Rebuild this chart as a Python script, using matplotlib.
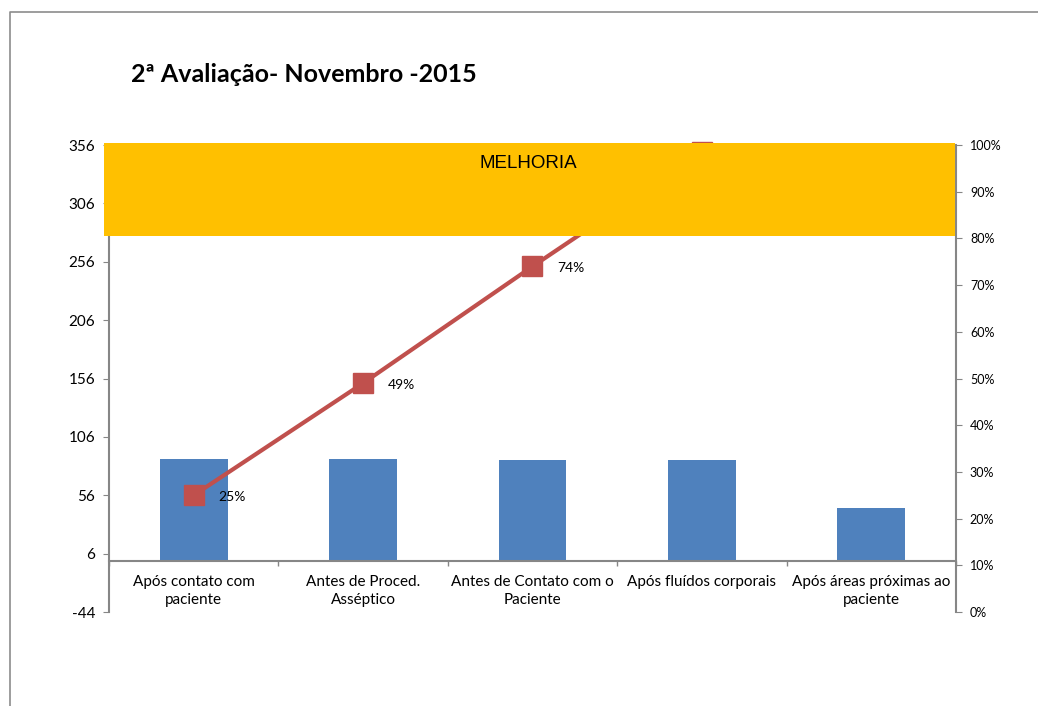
import numpy as np
import matplotlib.pyplot as plt
from matplotlib.patches import Rectangle
from matplotlib.lines import Line2D
from matplotlib.ticker import FuncFormatter

categorias = ['Após contato com\npaciente', 'Antes de Proced.\nAsséptico',
              'Antes de Contato com o\nPaciente', 'Após fluídos corporais',
              'Após áreas próximas ao\npaciente']
valores = [87, 87, 86, 86, 45]
acumulado = [0.25, 0.49, 0.74, 0.984, np.nan]
rotulos = ['25%', '49%', '74%', '', '']

plt.rcParams['font.family'] = ['Lato', 'DejaVu Sans']
plt.rcParams['axes.unicode_minus'] = False
cinza = '#868686'

fig = plt.figure(figsize=(10.38, 7.06), dpi=100)
ax = fig.add_axes([0.105, 0.1331, 0.816, 0.6615])
x = np.arange(len(categorias))

ax.bar(x, valores, width=0.4, color='#4F81BD', zorder=2)
ax.set_xlim(-0.5, 4.5)
ax.set_ylim(-44, 356)
ax.set_yticks(np.arange(-44, 357, 50))
ax.tick_params(axis='y', labelsize=11, color=cinza, length=4, pad=6)
ax.spines['top'].set_visible(False)
ax.spines['right'].set_visible(False)
ax.spines['left'].set_color(cinza)
ax.spines['bottom'].set_color(cinza)
ax.spines['left'].set_linewidth(1.5)
ax.spines['bottom'].set_linewidth(1.5)
ax.spines['bottom'].set_position(('data', 0))
ax.set_xticks(x)
ax.set_xticklabels(categorias, fontsize=11, linespacing=1.45)
ax.tick_params(axis='x', which='major', length=0, pad=10)
ax.set_xticks(np.arange(-0.5, 4.6, 1), minor=True)
ax.tick_params(axis='x', which='minor', length=3.5, color=cinza, width=1)

ax2 = ax.twinx()
ax2.set_ylim(0, 1)
ax2.set_yticks(np.arange(0, 1.01, 0.1))
ax2.yaxis.set_major_formatter(FuncFormatter(lambda v, p: '%d%%' % round(v * 100)))
ax2.tick_params(axis='y', labelsize=9, color=cinza, length=4, pad=6)
for s in ['top', 'left', 'bottom']:
    ax2.spines[s].set_visible(False)
ax2.spines['right'].set_color(cinza)
ax2.spines['right'].set_linewidth(1.5)
ax2.plot(x, acumulado, color='#C0504D', lw=3, marker='s', markersize=14,
         clip_on=False, zorder=3)
for xi, yi, t in zip(x, acumulado, rotulos):
    if t:
        ax2.annotate(t, (xi, yi), xytext=(18, -1), textcoords='offset points',
                     fontsize=10, va='center', ha='left')

# caixa "MELHORIA" sobreposta
fig.patches.append(Rectangle((104 / 1038, 1 - 236 / 706), 851 / 1038, 93 / 706,
                             transform=fig.transFigure, facecolor='#FFC000',
                             edgecolor='none', zorder=10))
fig.text(528 / 1038, 1 - 164 / 706, 'MELHORIA', fontsize=13.5, ha='center',
         va='center', zorder=11, family=['Liberation Sans', 'DejaVu Sans'])

fig.text(131 / 1038, 1 - 75 / 706, '2ª Avaliação- Novembro -2015', fontsize=18,
         fontweight='bold', ha='left', va='center')

# moldura
fig.lines.append(Line2D([10 / 1038, 10 / 1038, 1], [0, 1 - 12 / 706, 1 - 12 / 706],
                        transform=fig.transFigure, color='#8C8C8C', lw=1.2))

fig.savefig('out.png', dpi=100)
